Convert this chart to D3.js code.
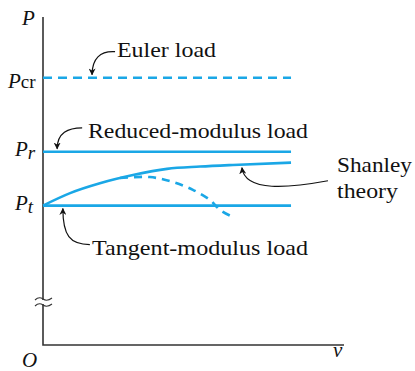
<!DOCTYPE html>
<html><head><meta charset="utf-8">
<script src="https://cdn.jsdelivr.net/npm/d3@7"></script>
<style>body{margin:0;background:#fff}svg{display:block}text{font-family:"Liberation Serif","Times New Roman",serif;fill:#111}</style>
</head><body>
<script>
// Load levels (relative units)
const loadNames = ["Pt", "Pr", "Pcr"];
const loadValues = [42.5, 58.9, 81.5];
const lineEnd = 82.4;
// Shanley theory curve (v, P)
const shanleyV = [0, 9.0, 18.9, 29.9, 41.2, 52.2, 63.1, 82.4];
const shanleyP = [42.5, 46.3, 49.3, 51.8, 53.7, 54.4, 54.9, 55.6];
// Unloading (dashed) branch
const dropV = [25.6, 35.5, 43.2, 49.8, 55.5, 58.8, 63.1];
const dropP = [50.9, 51.2, 49.7, 47.3, 44.2, 41.2, 39.0];
const labels = ["Euler load", "Reduced-modulus load", "Tangent-modulus load", "Shanley", "theory"];

const W = 415, H = 371, blue = "#1aa7e6";
const svg = d3.select("body").append("svg").attr("width", W).attr("height", H);
const x = d3.scaleLinear().domain([0, 100]).range([43, 344]);
const y = d3.scaleLinear().domain([0, 100]).range([345, 17]);

svg.append("defs").append("marker").attr("id", "ah").attr("viewBox", "0 0 10 10")
  .attr("refX", 9).attr("refY", 5).attr("markerWidth", 7).attr("markerHeight", 7)
  .attr("markerUnits", "userSpaceOnUse").attr("orient", "auto")
  .append("path").attr("d", "M0,0 L10,5 L0,10 L3,5 Z").attr("fill", "#111");

// axes
svg.append("path").attr("d", `M${x(0)},${y(100)} V${y(0)} H${x(100)}`)
  .attr("fill", "none").attr("stroke", "#333").attr("stroke-width", 1.6);
// axis break
const by = 302;
svg.append("rect").attr("x", x(0) - 3).attr("y", by - 2).attr("width", 6).attr("height", 4).attr("fill", "#fff");
[by - 3, by + 3].forEach(yy => {
  svg.append("path").attr("d", `M${x(0)-8},${yy+1} Q${x(0)-4},${yy-3} ${x(0)},${yy} T${x(0)+9},${yy-1}`)
    .attr("fill", "none").attr("stroke", "#333").attr("stroke-width", 1.1);
});

// load lines
loadValues.forEach((v, i) => {
  svg.append("line").attr("x1", x(0)).attr("x2", x(lineEnd)).attr("y1", y(v)).attr("y2", y(v))
    .attr("stroke", blue).attr("stroke-width", 2.6)
    .attr("stroke-dasharray", loadNames[i] === "Pcr" ? "9,6" : null);
});

const line = d3.line().x(d => x(d[0])).y(d => y(d[1])).curve(d3.curveMonotoneX);
svg.append("path").attr("d", line(shanleyV.map((v, i) => [v, shanleyP[i]])))
  .attr("fill", "none").attr("stroke", blue).attr("stroke-width", 2.6);
svg.append("path").attr("d", d3.line().x(d => x(d[0])).y(d => y(d[1])).curve(d3.curveCatmullRom)(dropV.map((v, i) => [v, dropP[i]])))
  .attr("fill", "none").attr("stroke", blue).attr("stroke-width", 2.6).attr("stroke-dasharray", "8,6");

// annotation arrows
function arrow(d) {
  svg.append("path").attr("d", d).attr("fill", "none").attr("stroke", "#111")
    .attr("stroke-width", 1.2).attr("marker-end", "url(#ah)");
}
const ex = x(16.3), ey = y(loadValues[2]);
arrow(`M${ex+23},${ey-26} C${ex+8},${ey-27} ${ex},${ey-19} ${ex},${ey-3}`);
const rx = x(4.7), ry = y(loadValues[1]);
arrow(`M${rx+25},${ry-24} C${rx+11},${ry-24} ${rx},${ry-19} ${rx},${ry-3}`);
const tx = x(6.6), ty = y(loadValues[0]);
arrow(`M${tx+27},${ty+39} C${tx+7},${ty+39} ${tx},${ty+30} ${tx},${ty+3}`);
const sx = x(66.1), sy = y(54.95);
arrow(`M${sx+86},${sy+16} C${sx+48},${sy+23} ${sx+3},${sy+28} ${sx},${sy+3}`);

// text
const fs = 21;
const t = (s, xx, yy, italic, len) => {
  const e = svg.append("text").attr("x", xx).attr("y", yy)
    .attr("font-size", fs).attr("font-style", italic ? "italic" : null).text(s);
  if (len) e.attr("textLength", len).attr("lengthAdjust", "spacingAndGlyphs");
  return e;
};
t(labels[0], 117, 57, false, 99);
t(labels[1], 88, 138, false, 220);
t(labels[2], 92, 255, false, 216);
t(labels[3], 337, 172, false, 75);
t(labels[4], 337, 198, false, 61);
t("P", 22, 25, true);
t("O", 22, 367, true);
t("v", 333, 357, true);

function plab(sub, xx, yy, subItalic, dy) {
  const tt = svg.append("text").attr("x", xx).attr("y", yy).attr("font-size", fs);
  tt.append("tspan").attr("font-style", "italic").text("P");
  tt.append("tspan").attr("font-size", 19).attr("dy", dy).attr("font-style", subItalic ? "italic" : null).text(sub);
}
plab("cr", 8, 88, false, 0);
plab("r", 15, 156, true, 3);
plab("t", 15, 210, true, 3);
</script>
</body></html>
